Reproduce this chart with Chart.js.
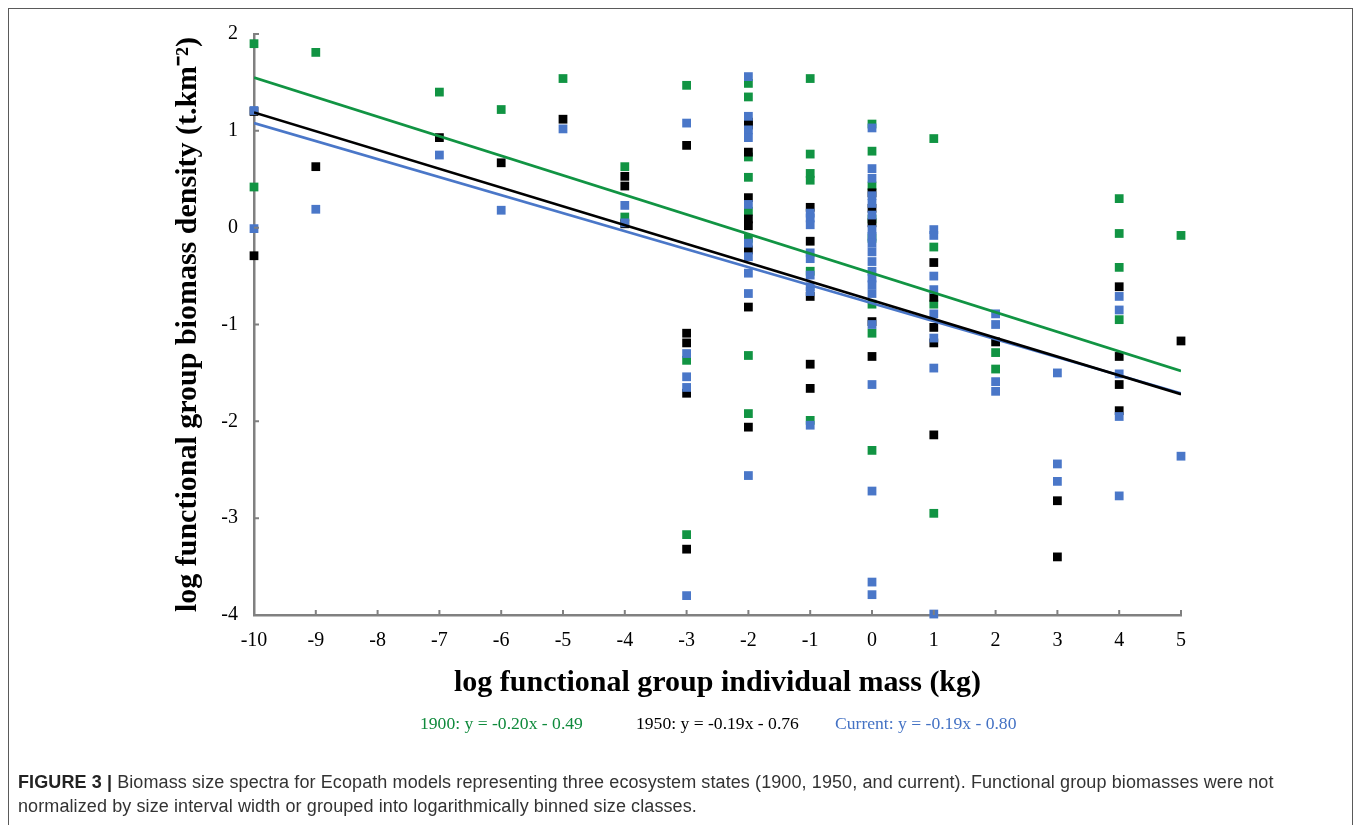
<!DOCTYPE html>
<html>
<head>
<meta charset="utf-8">
<title>Figure 3 - Biomass size spectra</title>
<script src="https://cdn.jsdelivr.net/npm/chart.js@4.4.1/dist/chart.umd.min.js"></script>
<style>
  body { margin: 0; background: #fff; }
  .page { position: relative; width: 1360px; height: 825px; overflow: hidden; }
  .frame {
    position: absolute; left: 8px; top: 8px; width: 1345px; height: 900px;
    border: 1.5px solid #5a5a5a; box-sizing: border-box;
  }
  canvas { position: absolute; left: 0; top: 0; }
  .eq {
    position: absolute; top: 712px; line-height: 22px;
    font-family: "Liberation Serif", serif; font-size: 17.6px; white-space: nowrap;
  }
  .caption {
    position: absolute; left: 18px; top: 770px; white-space: nowrap;
    font-family: "Liberation Sans", Arial, sans-serif; font-size: 18px;
    letter-spacing: 0.1px; line-height: 24px; color: #333;
  }
  .caption b { color: #222; }
</style>
</head>
<body>
<div class="page">
  <div class="frame"></div>
  <canvas id="bssChart" width="1360" height="825"></canvas>
  <div class="eq" style="left:420px;color:#0f8a3c">1900: y = -0.20x - 0.49</div>
  <div class="eq" style="left:636px;color:#000">1950: y = -0.19x - 0.76</div>
  <div class="eq" style="left:835px;color:#4472c4">Current: y = -0.19x - 0.80</div>
  <div class="caption"><b>FIGURE 3 |</b> Biomass size spectra for Ecopath models representing three ecosystem states (1900, 1950, and current). Functional group biomasses were not<br>normalized by size interval width or grouped into logarithmically binned size classes.</div>
</div>

<script>
/* ── DATA (log10 kg, log10 t.km-2) ─────────────────────────── */
const xTicks = [-10, -9, -8, -7, -6, -5, -4, -3, -2, -1, 0, 1, 2, 3, 4, 5];
const yTicks = [-4, -3, -2, -1, 0, 1, 2];

const mass1900 = [-10, -10, -9, -7, -6, -5, -4, -4, -3, -3, -3,
  -2, -2, -2, -2, -2, -2, -2, -2, -1, -1, -1, -1, -1, -1,
  0, 0, 0, 0, 0, 0, 0, 0, 1, 1, 1, 1, 2, 2, 4, 4, 4, 4, 5];
const dens1900 = [1.90, 0.42, 1.81, 1.40, 1.22, 1.54, 0.63, 0.11, 1.47, -1.37, -3.17,
  1.49, 1.35, 0.73, 0.52, 0.17, -0.11, -1.32, -1.92, 1.54, 0.76, 0.56, 0.49, -0.45, -1.99,
  1.07, 0.79, 0.43, 0.09, -0.11, -0.79, -1.09, -2.30, 0.92, -0.20, -0.79, -2.95, -1.29, -1.46,
  0.30, -0.06, -0.41, -0.95, -0.08];

const mass1950 = [-10, -10, -9, -7, -6, -5, -4, -4, -4, -3, -3, -3, -3, -3,
  -2, -2, -2, -2, -2, -2, -2, -2, -2, -1, -1, -1, -1, -1,
  0, 0, 0, 0, 0, 1, 1, 1, 1, 1, 2, 3, 3, 4, 4, 4, 4, 5];
const dens1950 = [1.20, -0.29, 0.63, 0.93, 0.67, 1.12, 0.53, 0.43, 0.04, 0.85, -1.09, -1.19, -1.71, -3.32,
  1.09, 1.06, 0.78, 0.31, 0.09, 0.02, -0.23, -0.82, -2.06, 0.21, -0.14, -0.71, -1.41, -1.66,
  0.36, 0.20, 0.05, -0.97, -1.33, -0.36, -0.72, -1.03, -1.19, -2.14, -1.18, -2.82, -3.40,
  -0.61, -1.33, -1.62, -1.89, -1.17];

const massNow = [-10, -10, -9, -7, -6, -5, -4, -4, -3, -3, -3, -3, -3,
  -2, -2, -2, -2, -2, -2, -2, -2, -2, -2,
  -1, -1, -1, -1, -1, -1, -1, -1, -1,
  0, 0, 0, 0, 0, 0, 0, 0, 0, 0, 0, 0, 0, 0, 0, 0, 0, 0, 0, 0,
  1, 1, 1, 1, 1, 1, 1, 1, 2, 2, 2, 2, 3, 3, 3, 4, 4, 4, 4, 4, 5];
const densNow = [1.21, -0.01, 0.19, 0.75, 0.18, 1.02, 0.23, 0.05, 1.08, -1.30, -1.54, -1.65, -3.80,
  1.56, 1.15, 1.01, 0.93, 0.24, -0.16, -0.30, -0.47, -0.68, -2.56,
  0.15, 0.10, 0.03, -0.26, -0.32, -0.49, -0.61, -0.66, -2.04,
  1.03, 0.61, 0.51, 0.33, 0.25, 0.13, -0.02, -0.09, -0.16, -0.25, -0.35, -0.45, -0.52, -0.59,
  -0.68, -1.00, -1.62, -2.72, -3.66, -3.79,
  -0.02, -0.08, -0.50, -0.64, -0.89, -1.14, -1.45, -3.99, -0.89, -1.00, -1.59, -1.69,
  -1.50, -2.44, -2.62, -0.71, -0.85, -1.51, -1.95, -2.77, -2.36];

// trend line ends as read at x = -10 and x = 5
const trendX    = [-10, 5];
const trend1900 = [1.55, -1.48];
const trend1950 = [1.19, -1.72];
const trendNow  = [1.08, -1.71];

/* ── COLOURS ───────────────────────────────────────────────── */
const GREEN = '#119443';
const BLACK = '#000000';
const BLUE  = '#4a77c8';
const AXIS  = '#808080';

function pairs(xs, ys) {
  return xs.map((x, i) => ({ x: x, y: ys[i] }));
}

function points(label, xs, ys, color, order) {
  return {
    type: 'scatter', label, data: pairs(xs, ys), order,
    pointStyle: 'rect', pointRadius: 6.2, pointHoverRadius: 6.2,
    backgroundColor: color, borderColor: color, borderWidth: 0, clip: false
  };
}

function trend(label, ys, color, order) {
  return {
    type: 'line', label, data: pairs(trendX, ys), order,
    borderColor: color, borderWidth: 2.6, pointRadius: 0, fill: false, tension: 0
  };
}

// small tick marks pointing into the plot, like the original
const innerTicks = {
  id: 'innerTicks',
  afterDraw(chart) {
    const { ctx, chartArea: a, scales: { x, y } } = chart;
    ctx.save();
    ctx.strokeStyle = AXIS;
    ctx.lineWidth = 2;
    ctx.beginPath();
    yTicks.forEach(v => {
      const py = y.getPixelForValue(v);
      ctx.moveTo(a.left, py); ctx.lineTo(a.left + 5, py);
    });
    xTicks.forEach(v => {
      const px = x.getPixelForValue(v);
      ctx.moveTo(px, a.bottom); ctx.lineTo(px, a.bottom - 5);
    });
    ctx.stroke();
    ctx.restore();
  }
};

const serif = '"Liberation Serif", "Times New Roman", serif';

new Chart(document.getElementById('bssChart'), {
  data: {
    datasets: [
      trend('1900 trend', trend1900, GREEN, 0),
      trend('1950 trend', trend1950, BLACK, 0),
      trend('Current trend', trendNow, BLUE, 0),
      points('Current', massNow, densNow, BLUE, 1),
      points('1950', mass1950, dens1950, BLACK, 2),
      points('1900', mass1900, dens1900, GREEN, 3)
    ]
  },
  options: {
    responsive: false,
    animation: false,
    events: [],
    layout: { padding: { left: 168, top: 34, right: 179, bottom: 120 } },
    plugins: { legend: { display: false }, tooltip: { enabled: false } },
    scales: {
      x: {
        type: 'linear', min: -10, max: 5,
        afterBuildTicks: s => { s.ticks = xTicks.map(v => ({ value: v })); },
        afterFit: s => { s.height = 90; },
        grid: { drawOnChartArea: false, drawTicks: false },
        border: { color: AXIS, width: 2.5 },
        ticks: { padding: 14, color: '#000', font: { family: serif, size: 20 }, maxRotation: 0 },
        title: {
          display: true, text: 'log functional group individual mass (kg)', color: '#000',
          font: { family: serif, size: 30, weight: 'bold' }, padding: { top: 4, bottom: 4 }
        }
      },
      y: {
        type: 'linear', min: -4, max: 2,
        afterBuildTicks: s => { s.ticks = yTicks.map(v => ({ value: v })); },
        afterFit: s => { s.width = 86; },
        grid: { drawOnChartArea: false, drawTicks: false },
        border: { color: AXIS, width: 2.5 },
        ticks: { padding: 16, color: '#000', font: { family: serif, size: 20 } },
        title: {
          display: true, text: 'log functional group biomass density (t.km\u207B\u00B2)', color: '#000',
          font: { family: serif, size: 30, weight: 'bold' }, padding: { top: 2, bottom: 2 }
        }
      }
    }
  },
  plugins: [innerTicks]
});
</script>
</body>
</html>
